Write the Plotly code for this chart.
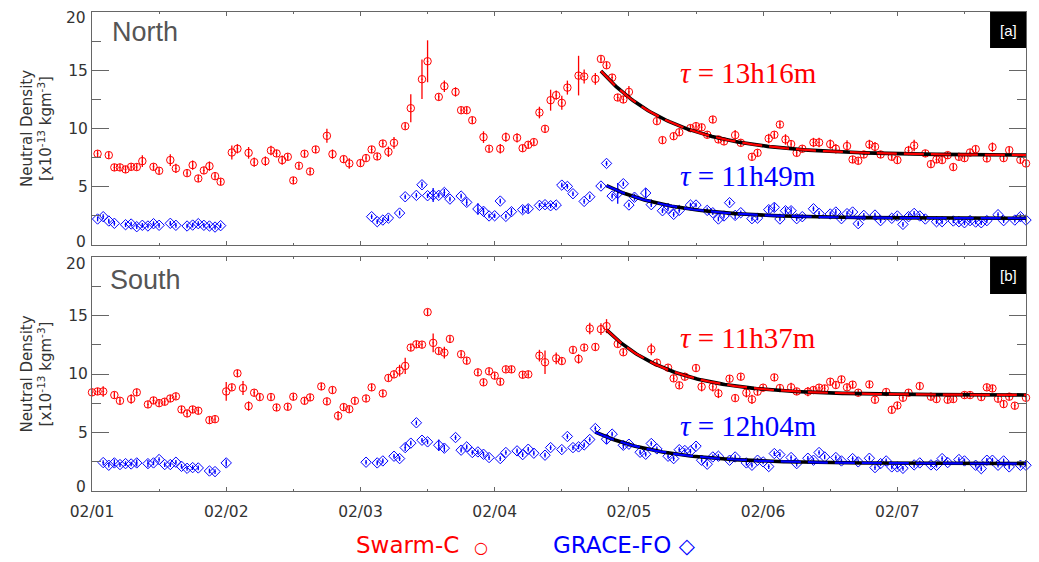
import numpy as np
import pandas as pd
import plotly.graph_objects as go

BASE = pd.Timestamp("2022-02-01 00:00")

# ---------------- North (panel a) ----------------
north_swarm_h = [1, 3, 4, 5, 6, 7, 8, 9, 11, 12, 14, 15, 17, 18, 19, 20, 21, 22, 23,
                 25, 26, 28, 29, 31, 32, 33, 34, 35, 36, 37, 38, 39, 40, 42, 43, 45, 46, 48,
                 49, 50, 51, 52, 53, 54, 56, 57, 59, 60, 62, 63, 65, 66, 67, 68, 70, 71, 73, 74,
                 76, 77, 78, 79, 80, 81, 82, 83, 84, 85, 87, 88, 90, 91, 92, 93, 94, 95, 96,
                 101, 102, 104, 105, 107, 108, 109, 110, 111, 112, 113, 115, 116, 118, 119,
                 121, 122, 123, 124, 125, 126, 127, 129, 130, 132, 133, 135, 136, 137, 138,
                 139, 140, 141, 143, 144, 146, 147, 149, 150, 151, 152, 153, 154, 155, 156,
                 157, 158, 160, 161, 163, 164, 166, 167]
north_swarm_v = [7.83, 7.71, 6.66, 6.66, 6.49, 6.71, 6.69, 7.2, 6.71, 6.37, 7.29, 6.57, 6.17, 6.86, 5.71, 6.4, 6.77, 5.91, 5.43,
                 7.94, 8.26, 7.91, 7.11, 7.2, 8.11, 7.86, 7.29, 7.57, 5.54, 6.8, 7.83, 6.31, 8.2, 9.37, 7.8, 7.37, 7.0, 7.03,
                 7.46, 8.2, 7.6, 8.71, 8.0, 8.77, 10.2, 11.74, 14.23, 15.77, 12.71, 13.63, 13.14, 11.57, 11.57, 10.71, 9.26, 8.26, 8.26, 9.26,
                 9.2, 8.31, 8.6, 8.83, 11.37, 9.97, 12.43, 12.86, 12.2, 13.51, 14.54, 14.46, 14.26, 15.97, 15.43, 14.37, 12.66, 12.49, 13.14,
                 10.63, 9.0, 9.34, 9.68, 10.03, 10.2, 10.1, 9.46, 10.77, 9.06, 8.89, 9.43, 8.77, 7.57, 7.91,
                 9.14, 9.46, 10.34, 9.06, 8.66, 7.91, 8.26, 8.8, 8.8, 8.66, 8.26, 8.49, 7.34, 7.23, 7.77,
                 8.63, 8.43, 7.77, 7.57, 7.29, 8.11, 8.54, 7.86, 6.94, 7.34, 7.29, 7.71, 6.69, 7.57, 7.46,
                 7.94, 8.23, 7.43, 8.4, 7.46, 8.14, 7.31, 7.0]
north_swarm_e = [0.3, 0.3, 0.3, 0.3, 0.3, 0.3, 0.3, 0.5, 0.3, 0.3, 0.5, 0.4, 0.3, 0.4, 0.3, 0.3, 0.4, 0.3, 0.3,
                 0.6, 0.4, 0.5, 0.4, 0.4, 0.4, 0.3, 0.4, 0.3, 0.3, 0.3, 0.3, 0.3, 0.3, 0.6, 0.4, 0.3, 0.45, 0.3,
                 0.3, 0.3, 0.3, 0.3, 0.45, 0.5, 0.3, 1.2, 1.7, 1.8, 0.3, 0.5, 0.4, 0.3, 0.3, 0.3, 0.5, 0.3, 0.4, 0.4,
                 0.4, 0.3, 0.3, 0.3, 0.5, 0.3, 0.9, 0.4, 0.6, 0.6, 1.7, 0.6, 0.5, 0.3, 0.3, 0.3, 0.3, 0.3, 0.5,
                 0.3, 0.3, 0.3, 0.3, 0.3, 0.3, 0.3, 0.3, 0.3, 0.3, 0.3, 0.45, 0.3, 0.3, 0.3,
                 0.4, 0.3, 0.3, 0.45, 0.3, 0.3, 0.3, 0.4, 0.4, 0.4, 0.4, 0.5, 0.3, 0.3, 0.3,
                 0.4, 0.4, 0.3, 0.3, 0.3, 0.4, 0.5, 0.3, 0.3, 0.3, 0.3, 0.3, 0.3, 0.3, 0.3,
                 0.3, 0.3, 0.3, 0.4, 0.3, 0.3, 0.3, 0.3]

north_grace_h = [1, 2, 3, 4, 6, 7, 8, 9, 10, 11, 12, 14, 15, 17, 18, 19, 20, 21, 22, 23,
                 50, 51, 52, 53, 55, 56, 58, 59, 60, 61, 62, 63, 64, 66, 67, 69, 70, 71, 72, 73, 74, 75,
                 77, 78, 80, 81, 82, 83, 84, 85, 86, 88, 89, 91, 92, 93, 94, 95, 96, 97, 99, 100,
                 102, 103, 104, 105, 107, 108, 110, 111, 112, 113, 114, 115, 116, 118, 119,
                 121, 122, 123, 124, 125, 126, 127, 129, 130, 132, 133, 134, 135, 136, 137, 138,
                 140, 141, 143, 144, 145, 146, 147, 148, 149, 151, 152, 154, 155, 156, 157, 158,
                 159, 160, 162, 163, 165, 166, 167]
north_grace_v = [2.23, 2.43, 2.06, 1.86, 1.74, 1.8, 1.57, 1.69, 1.63, 1.83, 1.69, 1.86, 1.69, 1.63, 1.71, 1.83, 1.69, 1.63, 1.54, 1.66,
                 2.43, 2.0, 2.14, 2.31, 2.74, 4.14, 4.26, 5.17, 4.23, 4.29, 4.26, 4.51, 3.94, 4.2, 3.66, 3.09, 2.89, 2.49, 2.51, 3.77, 2.46, 2.86,
                 3.03, 3.11, 3.4, 3.46, 3.37, 3.43, 5.14, 5.03, 4.4, 3.74, 4.14, 5.06, 7.0, 4.2, 4.43, 5.26, 3.43, 4.1, 4.46, 3.46,
                 2.94, 3.14, 2.63, 2.97, 3.43, 3.43, 2.97, 2.77, 2.23, 2.49, 3.63, 2.54, 2.77, 2.26, 2.31,
                 3.03, 3.23, 2.23, 2.94, 2.94, 2.26, 2.43, 3.11, 2.71, 2.66, 2.83, 2.26, 2.69, 2.83, 1.83, 2.54,
                 2.57, 2.09, 2.29, 2.49, 1.77, 2.43, 2.71, 2.49, 2.23, 2.0, 2.0, 2.06, 2.0, 1.91, 2.09, 1.97,
                 1.91, 2.09, 2.6, 2.09, 2.14, 2.43, 2.14]
north_grace_e = [0.2, 0.2, 0.2, 0.2, 0.2, 0.2, 0.2, 0.2, 0.2, 0.2, 0.2, 0.2, 0.2, 0.2, 0.2, 0.2, 0.2, 0.2, 0.2, 0.2,
                 0.2, 0.2, 0.2, 0.25, 0.2, 0.2, 0.2, 0.25, 0.2, 0.6, 0.2, 0.3, 0.2, 0.2, 0.3, 0.5, 0.3, 0.2, 0.2, 0.2, 0.2, 0.3,
                 0.3, 0.35, 0.2, 0.2, 0.2, 0.2, 0.2, 0.2, 0.2, 0.2, 0.2, 0.2, 0.2, 0.2, 0.9, 0.2, 0.2, 0.3, 0.4, 0.2,
                 0.2, 0.2, 0.2, 0.2, 0.2, 0.2, 0.25, 0.2, 0.2, 0.2, 0.2, 0.3, 0.2, 0.2, 0.2,
                 0.3, 0.35, 0.2, 0.3, 0.3, 0.2, 0.2, 0.2, 0.2, 0.2, 0.25, 0.2, 0.2, 0.2, 0.2, 0.2,
                 0.2, 0.2, 0.2, 0.2, 0.2, 0.25, 0.2, 0.2, 0.2, 0.2, 0.2, 0.2, 0.2, 0.2, 0.2, 0.2,
                 0.2, 0.2, 0.2, 0.2, 0.2, 0.25, 0.2]

# ---------------- South (panel b) ----------------
south_swarm_h = [0, 1, 2, 4, 5, 7, 8, 10, 11, 12, 13, 14, 15, 16, 17, 18, 19, 21, 22,
                 24, 25, 26, 27, 28, 29, 30, 32, 33, 35, 36, 38, 39, 41, 42, 43, 44, 45, 46, 47,
                 49, 50, 52, 53, 54, 55, 56, 57, 58, 59, 60, 61, 62, 63, 64, 66, 67, 69, 70, 71, 72,
                 73, 74, 75, 77, 78, 80, 81, 83, 84, 86, 87, 88, 89, 90, 91, 92, 94, 95,
                 100, 101, 103, 104, 105, 106, 108, 109, 111, 112, 114, 115, 116, 117, 118, 119, 120,
                 122, 123, 125, 126, 128, 129, 130, 131, 132, 133, 134, 135, 136, 137, 139, 140,
                 142, 143, 144, 145, 146, 148, 150, 151, 153, 154, 156, 157, 159, 160, 161, 162,
                 163, 164, 165, 167]
south_swarm_v = [8.43, 8.51, 8.51, 8.2, 7.71, 7.86, 8.43, 7.4, 7.74, 7.51, 7.63, 7.91, 8.09, 6.97, 6.63, 6.97, 6.86, 6.06, 6.14,
                 8.51, 8.86, 10.06, 8.8, 7.26, 8.4, 8.03, 8.03, 7.14, 7.2, 8.06, 7.71, 8.0, 8.94, 7.66, 8.63, 6.43, 7.17, 6.99, 7.71,
                 7.91, 8.86, 8.34, 9.66, 9.97, 10.29, 10.69, 12.26, 12.54, 12.51, 15.29, 12.66, 11.97, 11.83, 13.0, 11.69, 11.14, 10.14, 9.29, 10.23, 9.86,
                 9.34, 10.4, 10.4, 9.94, 9.97, 11.57, 11.0, 11.34, 11.11, 12.06, 11.29, 12.26, 13.89, 12.31, 13.83, 14.09, 12.57, 11.86,
                 12.11, 10.97, 10.54, 9.63, 9.03, 9.77, 10.51, 8.91, 8.91, 8.34, 9.6, 7.94, 9.77, 8.4, 7.83, 8.49, 8.83,
                 9.71, 8.8, 8.86, 8.51, 8.49, 8.63, 8.83, 8.77, 9.34, 9.06, 9.54, 8.86, 9.09, 8.4, 9.11, 7.8,
                 8.46, 6.94, 7.31, 7.97, 8.4, 8.97, 8.06, 7.86, 7.8, 7.86, 8.2, 8.2, 8.03, 8.86, 8.77, 7.89,
                 7.43, 8.06, 7.29, 7.97]
south_swarm_e = [0.3, 0.3, 0.45, 0.3, 0.3, 0.4, 0.3, 0.3, 0.3, 0.3, 0.3, 0.3, 0.3, 0.3, 0.3, 0.3, 0.3, 0.3, 0.3,
                 0.8, 0.3, 0.3, 0.6, 0.4, 0.3, 0.3, 0.3, 0.3, 0.3, 0.3, 0.3, 0.3, 0.3, 0.3, 0.3, 0.4, 0.3, 0.3, 0.3,
                 0.3, 0.3, 0.3, 0.3, 0.3, 0.5, 0.7, 0.3, 0.3, 0.3, 0.3, 0.8, 0.3, 0.5, 0.3, 0.3, 0.3, 0.3, 0.3, 0.3, 0.3,
                 0.3, 0.3, 0.3, 0.3, 0.3, 0.5, 1.0, 0.5, 0.3, 0.3, 0.4, 0.3, 0.5, 0.3, 0.5, 0.6, 0.3, 0.3,
                 0.5, 0.3, 0.3, 0.3, 0.3, 0.3, 0.3, 0.4, 0.4, 0.4, 0.3, 0.3, 0.3, 0.4, 0.4, 0.3, 0.3,
                 0.3, 0.3, 0.4, 0.3, 0.4, 0.3, 0.3, 0.3, 0.3, 0.3, 0.3, 0.3, 0.3, 0.3, 0.3, 0.3,
                 0.3, 0.3, 0.3, 0.3, 0.3, 0.3, 0.3, 0.3, 0.3, 0.3, 0.3, 0.3, 0.3, 0.3, 0.3, 0.3,
                 0.3, 0.3, 0.3, 0.3]

south_grace_h = [2, 3, 4, 5, 6, 7, 8, 10, 11, 12, 13, 14, 15, 16, 17, 18, 19, 21, 22, 24,
                 49, 51, 52, 54, 55, 56, 57, 58, 59, 60, 62, 63, 65, 66, 67, 68, 69, 70, 71, 73, 74,
                 76, 77, 78, 79, 81, 82, 84, 85, 86, 87, 88, 89, 90, 92, 93, 95, 96, 98, 99, 100, 101,
                 103, 104, 105, 106, 107, 108, 109, 110, 111, 112, 114, 115, 117, 118, 119, 120, 121,
                 122, 123, 125, 126, 128, 129, 130, 131, 133, 134, 136, 137, 139, 140, 141, 142, 143,
                 144, 145, 147, 148, 150, 151, 152, 153, 155, 156, 158, 159, 160, 161, 162, 163, 164,
                 166, 167]
south_grace_v = [2.43, 2.2, 2.4, 2.26, 2.34, 2.31, 2.4, 2.34, 2.4, 2.69, 2.26, 2.26, 2.46, 2.11, 1.94, 2.0, 1.97, 1.71, 1.66, 2.4,
                 2.46, 2.4, 2.57, 2.97, 2.77, 3.71, 4.09, 5.83, 4.34, 4.2, 3.91, 3.66, 4.57, 3.49, 3.77, 3.29, 3.34, 3.14, 2.86, 2.77, 3.29,
                 3.43, 3.11, 3.57, 3.23, 3.06, 3.71, 3.54, 4.66, 3.71, 3.77, 3.94, 4.4, 5.34, 4.43, 4.86, 3.91, 4.0, 3.31, 3.14, 4.06, 3.6,
                 2.97, 2.77, 3.53, 3.46, 3.4, 3.83, 2.63, 2.29, 2.91, 2.97, 2.63, 2.91, 2.4, 2.2, 2.63, 2.49, 2.09,
                 3.2, 3.11, 2.86, 2.34, 2.8, 2.63, 3.29, 2.91, 2.86, 2.57, 2.77, 2.49, 2.8, 2.0, 2.34, 2.57, 2.06,
                 2.06, 1.94, 2.23, 2.4, 2.23, 2.2, 2.77, 2.43, 2.69, 2.57, 2.2, 1.91, 2.63, 2.63, 2.2, 2.57, 2.06,
                 2.2, 2.2]
south_grace_e = [0.2, 0.2, 0.3, 0.2, 0.2, 0.2, 0.3, 0.3, 0.2, 0.2, 0.2, 0.2, 0.2, 0.2, 0.2, 0.2, 0.2, 0.2, 0.2, 0.3,
                 0.2, 0.2, 0.2, 0.2, 0.2, 0.3, 0.2, 0.2, 0.2, 0.2, 0.5, 0.3, 0.2, 0.2, 0.2, 0.2, 0.2, 0.2, 0.2, 0.2, 0.2,
                 0.2, 0.2, 0.2, 0.2, 0.2, 0.2, 0.2, 0.2, 0.2, 0.2, 0.2, 0.2, 0.2, 0.4, 0.2, 0.3, 0.2, 0.2, 0.2, 0.2, 0.2,
                 0.2, 0.2, 0.2, 0.2, 0.2, 0.2, 0.2, 0.2, 0.2, 0.2, 0.2, 0.2, 0.2, 0.2, 0.2, 0.2, 0.2,
                 0.2, 0.2, 0.2, 0.25, 0.2, 0.2, 0.2, 0.2, 0.2, 0.2, 0.2, 0.2, 0.2, 0.2, 0.2, 0.2, 0.2,
                 0.2, 0.2, 0.25, 0.2, 0.2, 0.2, 0.2, 0.2, 0.2, 0.2, 0.2, 0.2, 0.2, 0.2, 0.2, 0.2, 0.2,
                 0.2, 0.2]

# ---------------- exponential recovery fits ----------------
fit_t0      = [91.0, 92.0, 92.0, 90.0]        # start hour
fit_y0      = [14.94, 5.09, 13.77, 5.03]      # start value
fit_c       = [7.70, 2.29, 8.20, 2.34]        # asymptote
fit_tau_h   = [13 + 16 / 60, 11 + 49 / 60, 11 + 37 / 60, 12 + 4 / 60]
fit_labels  = ["13h16m", "11h49m", "11h37m", "12h04m"]
fit_end_h   = 167.0

x_tick_labels = ["02/01", "02/02", "02/03", "02/04", "02/05", "02/06", "02/07"]
y_tick_vals = [0, 5, 10, 15, 20]
y_tick_text = ["", "5", "10", "15", ""]   # 0 and 20 are drawn as offset labels (as in original)

RED = "#ff0000"
BLUE = "#0000ff"
AXC = "#666666"
TXT = "#333333"
SANS = "DejaVu Sans"


def to_time(hours):
    return BASE + pd.to_timedelta(np.asarray(hours, dtype=float), unit="h")


fig = go.Figure()


def add_points(h, v, e, color, symbol, size, xa, ya):
    fig.add_trace(go.Scatter(
        x=to_time(h), y=v, mode="markers", xaxis=xa, yaxis=ya,
        marker=dict(symbol=symbol, size=size, color=color, line=dict(color=color, width=1)),
        error_y=dict(type="data", array=e, visible=True, color=color, thickness=1.3, width=0),
        cliponaxis=False, showlegend=False, hoverinfo="x+y"))


add_points(north_swarm_h, north_swarm_v, north_swarm_e, RED, "circle-open-dot", 7.5, "x", "y")
add_points(north_grace_h, north_grace_v, north_grace_e, BLUE, "diamond-open-dot", 8, "x", "y")
add_points(south_swarm_h, south_swarm_v, south_swarm_e, RED, "circle-open-dot", 7.5, "x2", "y2")
add_points(south_grace_h, south_grace_v, south_grace_e, BLUE, "diamond-open-dot", 8, "x2", "y2")

fit_colors = [RED, BLUE, RED, BLUE]
fit_axes = [("x", "y"), ("x", "y"), ("x2", "y2"), ("x2", "y2")]
for t0, y0, c, tau, col, (xa, ya) in zip(fit_t0, fit_y0, fit_c, fit_tau_h, fit_colors, fit_axes):
    tt = np.linspace(t0, fit_end_h, 200)
    yy = c + (y0 - c) * np.exp(-(tt - t0) / tau)
    fig.add_trace(go.Scatter(x=to_time(tt), y=yy, mode="lines", xaxis=xa, yaxis=ya,
                             line=dict(color="black", width=3.6), showlegend=False, hoverinfo="skip"))
    fig.add_trace(go.Scatter(x=to_time(tt), y=yy, mode="lines", xaxis=xa, yaxis=ya,
                             line=dict(color=col, width=2.2, dash="20px,7px"), showlegend=False,
                             hoverinfo="skip"))

# ---------------- axes ----------------
tickvals = [BASE + pd.Timedelta(days=i) for i in range(len(x_tick_labels))]
xr = [BASE, BASE + pd.Timedelta(hours=fit_end_h)]

common_x = dict(type="date", range=xr, tickvals=tickvals, ticktext=x_tick_labels,
                ticks="inside", ticklen=4, tickcolor=AXC, tickwidth=1,
                showline=True, linecolor=AXC, linewidth=1, mirror="ticks",
                showgrid=False, zeroline=False, ticklabelstandoff=6,
                minor=dict(ticks="inside", ticklen=2, dtick=12 * 3600 * 1000, tickcolor=AXC,
                           showgrid=False),
                tickfont=dict(family=SANS, size=15.5, color=TXT))
ytitle = "Neutral Density<br>[x10<sup>-13</sup> kgm<sup>-3</sup>]"
common_y = dict(range=[0, 20], tickvals=y_tick_vals, ticktext=y_tick_text, ticks="inside",
                ticklen=17, tickcolor=AXC, tickwidth=1, showline=True, linecolor=AXC,
                linewidth=1, mirror="ticks", showgrid=False, zeroline=False,
                minor=dict(ticks="inside", ticklen=9, dtick=2.5, tickcolor=AXC, showgrid=False),
                tickfont=dict(family=SANS, size=15.5, color=TXT),
                title=dict(text=ytitle, font=dict(family=SANS, size=15, color=TXT), standoff=12))

top_dom = [0.5136, 1.0]
bot_dom = [0.0, 0.4885]

fig.update_layout(
    width=1039, height=562,
    margin=dict(l=92, r=13, t=12, b=71),
    paper_bgcolor="white", plot_bgcolor="white",
    xaxis=dict(common_x, anchor="y", showticklabels=False, domain=[0, 1]),
    yaxis=dict(common_y, anchor="x", domain=top_dom),
    xaxis2=dict(common_x, anchor="y2", domain=[0, 1], matches="x"),
    yaxis2=dict(common_y, anchor="x2", domain=bot_dom),
)

ann = []
# end labels of the y axes, offset inward like the original
for txt, ypix in [("20", 18), ("0", 242), ("20", 263.5), ("0", 487)]:
    ann.append(dict(text=txt, xref="paper", yref="paper", x=-4.5 / 934, y=(491 - ypix) / 479,
                    xanchor="right", yanchor="middle", showarrow=False,
                    font=dict(family=SANS, size=15.5, color=TXT)))

# region names
ann.append(dict(text="North", xref="paper", yref="paper", x=0.019, y=0.958, xanchor="left",
                yanchor="middle", showarrow=False,
                font=dict(family="Liberation Sans", size=27, color="#555555")))
ann.append(dict(text="South", xref="paper", yref="paper", x=0.017, y=0.440, xanchor="left",
                yanchor="middle", showarrow=False,
                font=dict(family="Liberation Sans", size=27, color="#555555")))

# tau labels
tau_pos_y = [0.8727, 0.6575, 0.3194, 0.1363]
for lab, col, yy in zip(fit_labels, fit_colors, tau_pos_y):
    ann.append(dict(text="<i>τ</i> = " + lab, xref="paper", yref="paper", x=0.6274, y=yy,
                    xanchor="left", yanchor="middle", showarrow=False,
                    font=dict(family="Liberation Serif", size=29, color=col)))

# panel tags
shapes = []
for tag, y0, y1 in [("[a]", 0.9248, 1.0), ("[b]", 0.4113, 0.4885)]:
    shapes.append(dict(type="rect", xref="paper", yref="paper", x0=0.9615, x1=1.0, y0=y0, y1=y1,
                       fillcolor="black", line=dict(width=0)))
    ann.append(dict(text=tag, xref="paper", yref="paper", x=0.98075, y=(y0 + y1) / 2,
                    xanchor="center", yanchor="middle", showarrow=False,
                    font=dict(family="Liberation Sans", size=15, color="white")))

# legend text
ann.append(dict(text="Swarm-C&nbsp;&nbsp;<span style='font-size:16px'>○</span>", xref="paper",
                yref="paper", x=0.353, y=-0.1127, xanchor="center", yanchor="middle",
                showarrow=False, font=dict(family=SANS, size=23, color=RED)))
ann.append(dict(text="GRACE-FO&nbsp;<span style='font-size:21px'>◇</span>", xref="paper",
                yref="paper", x=0.5696, y=-0.1127, xanchor="center", yanchor="middle",
                showarrow=False, font=dict(family=SANS, size=23, color=BLUE)))

fig.update_layout(annotations=ann, shapes=shapes)
fig.write_html("out.html")
